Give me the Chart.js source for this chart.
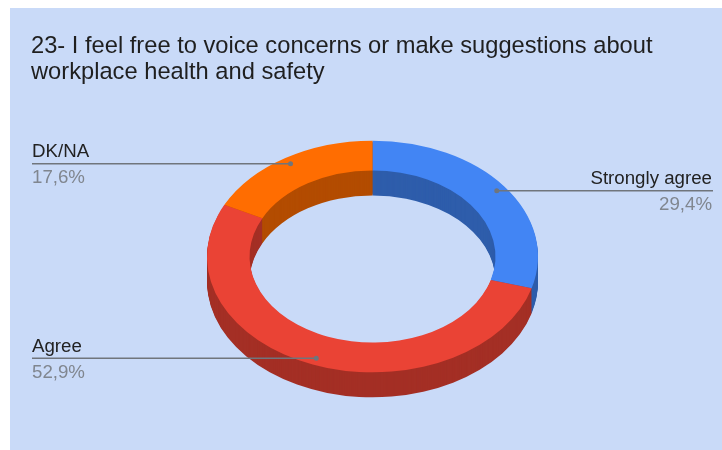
<!DOCTYPE html>
<html>
<head>
<meta charset="utf-8">
<script src="https://cdn.jsdelivr.net/npm/chart.js@4.4.1/dist/chart.umd.min.js"></script>
<style>
    body { margin: 0; background: #fff; }
    canvas { display: block; }
</style>
</head>
<body>
<canvas id="donutChart" width="722" height="450"></canvas>
<script>
const titleLines = ["23- I feel free to voice concerns or make suggestions about", "workplace health and safety"];
const categories = ["Strongly agree", "Agree", "DK/NA"];
const responses = [5, 9, 3];

const topColors = ["#4285f4", "#ea4335", "#ff6d01"];
const sideColors = ["#2e5dab", "#a42f25", "#b34c01"];

const TILT = 0.7;     // vertical squash of the ring
const DEPTH = 25;     // height of the 3d wall in px
const FONT = '"Liberation Sans", Arial, sans-serif';

// squash around the ring centre, optionally pushed down by dy
function tilt(ctx, cy, dy) {
    ctx.translate(0, cy + dy);
    ctx.scale(1, TILT);
    ctx.translate(0, -cy);
}

const backgroundPlugin = {
    id: "background",
    beforeDraw(chart) {
        const ctx = chart.ctx;
        ctx.save();
        ctx.fillStyle = "#ffffff";
        ctx.fillRect(0, 0, chart.width, chart.height);
        ctx.fillStyle = "#c9daf8";
        ctx.fillRect(10, 8, chart.width - 10, chart.height - 8);
        ctx.restore();
    }
};

const extrudePlugin = {
    id: "extrude",
    beforeDatasetsDraw(chart) {
        const ctx = chart.ctx;
        const arcs = chart.getDatasetMeta(0).data;

        for (let d = DEPTH; d > 0; d--) {
            arcs.forEach((arc, i) => {
                ctx.save();
                tilt(ctx, arc.y, d);
                ctx.beginPath();
                ctx.arc(arc.x, arc.y, arc.outerRadius, arc.startAngle, arc.endAngle);
                ctx.arc(arc.x, arc.y, arc.innerRadius, arc.endAngle, arc.startAngle, true);
                ctx.closePath();
                ctx.fillStyle = sideColors[i];
                ctx.fill();
                ctx.restore();
            });
        }

        // top face gets drawn by chart.js inside this transform
        ctx.save();
        tilt(ctx, arcs[0].y, 0);
    },
    afterDatasetsDraw(chart) {
        chart.ctx.restore();
    }
};

const labelsPlugin = {
    id: "labels",
    afterDraw(chart) {
        const ctx = chart.ctx;
        const arcs = chart.getDatasetMeta(0).data;
        const total = responses.reduce((a, b) => a + b, 0);

        ctx.save();
        ctx.fillStyle = "#1f1f1f";
        ctx.font = `23.7px ${FONT}`;
        ctx.textAlign = "left";
        ctx.textBaseline = "alphabetic";
        ctx.fillText(titleLines[0], 31, 53);
        ctx.fillText(titleLines[1], 31, 78.5);

        arcs.forEach((arc, i) => {
            const mid = (arc.startAngle + arc.endAngle) / 2;
            const r = arc.innerRadius + 0.77 * (arc.outerRadius - arc.innerRadius);
            const px = arc.x + r * Math.cos(mid);
            const py = arc.y + r * Math.sin(mid) * TILT;
            const onLeft = Math.cos(mid) < 0;
            const edge = onLeft ? 32 : 713;

            ctx.strokeStyle = "#70757c";
            ctx.lineWidth = 1.5;
            ctx.beginPath();
            ctx.moveTo(edge, py);
            ctx.lineTo(px, py);
            ctx.stroke();

            ctx.fillStyle = "#70757c";
            ctx.beginPath();
            ctx.arc(px, py, 2.5, 0, Math.PI * 2);
            ctx.fill();

            const pct = (responses[i] / total * 100).toFixed(1).replace(".", ",") + "%";
            ctx.font = `18.7px ${FONT}`;
            ctx.textAlign = onLeft ? "left" : "right";
            ctx.fillStyle = "#222222";
            ctx.fillText(categories[i], onLeft ? edge : edge - 1, py - 6.5);
            ctx.fillStyle = "#80868f";
            ctx.fillText(pct, onLeft ? edge : edge - 1, py + 19.5);
        });
        ctx.restore();
    }
};

const ctx = document.getElementById("donutChart").getContext("2d");

new Chart(ctx, {
    type: "doughnut",
    data: {
        labels: categories,
        datasets: [{
            data: responses,
            backgroundColor: topColors,
            borderWidth: 0,
            hoverOffset: 0,
            clip: false
        }]
    },
    options: {
        responsive: false,
        animation: false,
        events: [],
        cutout: "74.3%",
        layout: {
            padding: { left: 207, top: 91, right: 184, bottom: 28 }
        },
        plugins: {
            legend: { display: false },
            title: { display: false },
            tooltip: { enabled: false }
        }
    },
    plugins: [backgroundPlugin, extrudePlugin, labelsPlugin]
});
</script>
</body>
</html>
